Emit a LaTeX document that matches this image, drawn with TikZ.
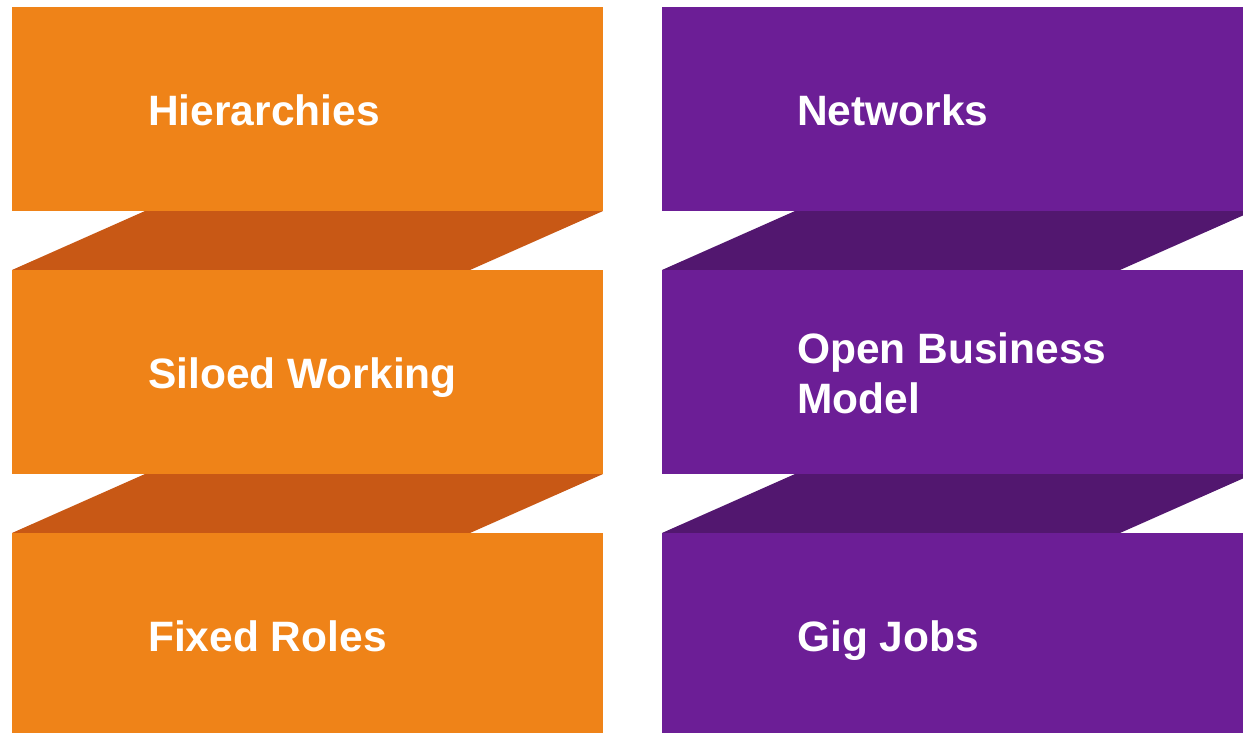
\documentclass[tikz,border=0pt]{standalone}
\usepackage{fontspec}
\setmainfont{Liberation Sans}
\definecolor{orangeA}{HTML}{EF8318}
\definecolor{orangeB}{HTML}{C85815}
\definecolor{purpleA}{HTML}{6C1E96}
\definecolor{purpleB}{HTML}{52176F}
\begin{document}
\begin{tikzpicture}[x=1pt,y=-1pt,
  lbl/.style={text=white, font=\fontsize{42.5}{50}\selectfont\bfseries, inner sep=0pt, anchor=base west, align=left}]
\useasboundingbox (0,0) rectangle (1243,732);
\clip (0,0) rectangle (1243,732);
% left column
\fill[orangeA] (12,7) rectangle (603,211);
\fill[orangeB] (145,211) -- (603,211) -- (470,270) -- (12,270) -- cycle;
\fill[orangeA] (12,270) rectangle (603,474);
\fill[orangeB] (145,474) -- (603,474) -- (470,533) -- (12,533) -- cycle;
\fill[orangeA] (12,533) rectangle (603,737);
% right column
\fill[purpleA] (662,7) rectangle (1253,211);
\fill[purpleB] (795,211) -- (1253,211) -- (1120,270) -- (662,270) -- cycle;
\fill[purpleA] (662,270) rectangle (1253,474);
\fill[purpleB] (795,474) -- (1253,474) -- (1120,533) -- (662,533) -- cycle;
\fill[purpleA] (662,533) rectangle (1253,737);
% labels
\node[lbl] (t1) at (148,125) {Hierarchies};
\node[lbl] (t2) at (148,388) {Siloed Working};
\node[lbl] (t3) at (148,651) {Fixed Roles};
\node[lbl] (t4) at (797,125) {Networks};
\node[lbl] (t5) at (797,413) {Open Business\\Model};
\node[lbl] (t6) at (797,651) {Gig Jobs};
\end{tikzpicture}
\end{document}
